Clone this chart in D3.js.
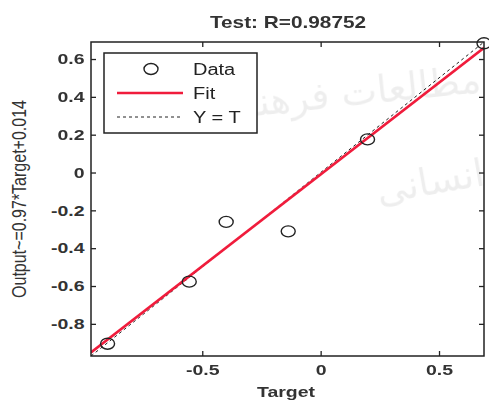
<!DOCTYPE html>
<html>
<head>
<meta charset="utf-8">
<script src="https://cdn.jsdelivr.net/npm/d3@7"></script>
<style>
  body { margin: 0; background: #fff; }
  svg text { font-family: "Liberation Sans", Arial, sans-serif; fill: #222; }
</style>
</head>
<body>
<div id="canvas"><svg width="489" height="406"></svg></div>
<script>
// values
var targets = [-0.90, -0.555, -0.399, -0.137, 0.198, 0.69];
var outputs = [-0.905, -0.577, -0.261, -0.311, 0.175, 0.683];
var axisLimits = [-0.97, 0.69];
var fitSlope = 0.97, fitIntercept = -0.01;
var xTicks = [-0.5, 0, 0.5];
var yTicks = [-0.8, -0.6, -0.4, -0.2, 0, 0.2, 0.4, 0.6];
var legendLabels = ["Data", "Fit", "Y = T"];
var title = "Test: R=0.98752",
    xLabel = "Target",
    yLabel = "Output~=0.97*Target+0.014";

var svg = d3.select("#canvas svg"),
    plotLeft = 91, plotTop = 42, plotRight = 484, plotBottom = 356,
    stretch = 1.3; // glyphs in the picture are wider than tall

var x = d3.scaleLinear().domain(axisLimits).range([plotLeft, plotRight]);
var y = d3.scaleLinear().domain(axisLimits).range([plotBottom, plotTop]);

function fmt(d) { return d === 0 ? "0" : String(+d.toFixed(1)); }

// faint watermark behind the plot
var wm = svg.append("g").attr("opacity", 0.07).style("pointer-events", "none");
wm.append("text").attr("transform", "translate(482,92) rotate(-6)")
  .attr("text-anchor", "end").style("font-family", "DejaVu Sans")
  .style("font-size", "38px").style("fill", "#000").text("مطالعات فرهنگی");
wm.append("text").attr("transform", "translate(486,185) rotate(-10)")
  .attr("text-anchor", "end").style("font-family", "DejaVu Sans")
  .style("font-size", "38px").style("fill", "#000").text("انسانی");

svg.append("defs").append("clipPath").attr("id", "plotclip")
  .append("rect").attr("x", plotLeft).attr("y", plotTop)
  .attr("width", plotRight - plotLeft).attr("height", plotBottom - plotTop);

var plot = svg.append("g").attr("clip-path", "url(#plotclip)");

// Y = T
plot.append("line")
  .attr("x1", x(axisLimits[0])).attr("y1", y(axisLimits[0]))
  .attr("x2", x(axisLimits[1])).attr("y2", y(axisLimits[1]))
  .attr("stroke", "#222").attr("stroke-width", 1)
  .attr("stroke-dasharray", "3,3");

// fit line
plot.append("line")
  .attr("x1", x(axisLimits[0])).attr("y1", y(fitSlope * axisLimits[0] + fitIntercept))
  .attr("x2", x(axisLimits[1])).attr("y2", y(fitSlope * axisLimits[1] + fitIntercept))
  .attr("stroke", "#f01c3c").attr("stroke-width", 2.5);

// data points
svg.append("g").selectAll("ellipse")
  .data(targets)
  .enter()
  .append("ellipse")
  .attr("cx", function (d) { return x(d); })
  .attr("cy", function (d, i) { return y(outputs[i]); })
  .attr("rx", 7).attr("ry", 5.5)
  .attr("fill", "none").attr("stroke", "#222").attr("stroke-width", 1.4);

// axes with inward ticks on all four sides
var ax = svg.append("g");
ax.append("g").attr("transform", "translate(0," + plotBottom + ")")
  .call(d3.axisBottom(x).tickValues(xTicks).tickFormat(fmt).tickSize(-5).tickPadding(8));
ax.append("g").attr("transform", "translate(0," + plotTop + ")")
  .call(d3.axisTop(x).tickValues(xTicks).tickFormat("").tickSize(-5));
ax.append("g").attr("transform", "translate(" + plotLeft + ",0)")
  .call(d3.axisLeft(y).tickValues(yTicks).tickFormat(fmt).tickSize(-5).tickPadding(5));
ax.append("g").attr("transform", "translate(" + plotRight + ",0)")
  .call(d3.axisRight(y).tickValues(yTicks).tickFormat("").tickSize(-5));
ax.selectAll(".domain").remove();
ax.selectAll(".tick line").attr("stroke", "#222").attr("stroke-width", 1.3);
ax.selectAll(".tick text")
  .style("font-size", "15px").style("font-weight", "bold").style("fill", "#333")
  .attr("transform", "scale(" + stretch + ",1)");

svg.append("rect")
  .attr("x", plotLeft).attr("y", plotTop)
  .attr("width", plotRight - plotLeft).attr("height", plotBottom - plotTop)
  .attr("fill", "none").attr("stroke", "#222").attr("stroke-width", 1.5);

// legend
var lg = svg.append("g").attr("transform", "translate(104,53)");
lg.append("rect").attr("width", 153).attr("height", 80)
  .attr("fill", "#fff").attr("stroke", "#222").attr("stroke-width", 1.5);
var rows = lg.selectAll(".row").data(legendLabels).enter()
  .append("g").attr("class", "row")
  .attr("transform", function (d, i) { return "translate(0," + (16 + i * 24) + ")"; });
rows.filter(function (d, i) { return i === 0; }).append("ellipse")
  .attr("cx", 47).attr("rx", 7).attr("ry", 5.5)
  .attr("fill", "none").attr("stroke", "#222").attr("stroke-width", 1.4);
rows.filter(function (d, i) { return i === 1; }).append("line")
  .attr("x1", 13).attr("x2", 79)
  .attr("stroke", "#f01c3c").attr("stroke-width", 2.5);
rows.filter(function (d, i) { return i === 2; }).append("line")
  .attr("x1", 13).attr("x2", 79)
  .attr("stroke", "#222").attr("stroke-width", 1).attr("stroke-dasharray", "3,3");
rows.append("text")
  .attr("transform", "translate(89,6) scale(1.25,1)")
  .style("font-size", "16px")
  .text(function (d) { return d; });

// title and labels
svg.append("text")
  .attr("transform", "translate(288,28) scale(" + stretch + ",1)")
  .attr("text-anchor", "middle")
  .style("font-size", "16px").style("font-weight", "bold").style("fill", "#333")
  .text(title);
svg.append("text")
  .attr("transform", "translate(286,397) scale(" + stretch + ",1)")
  .attr("text-anchor", "middle")
  .style("font-size", "15px").style("font-weight", "bold").style("fill", "#333")
  .text(xLabel);
// rotated label: the picture's stretch widens the glyph height here
svg.append("text")
  .attr("transform", "translate(26," + ((plotTop + plotBottom) / 2) + ") scale(1.25,1) rotate(-90)")
  .attr("text-anchor", "middle")
  .style("font-size", "16px").style("fill", "#333")
  .text(yLabel);
</script>
</body>
</html>
